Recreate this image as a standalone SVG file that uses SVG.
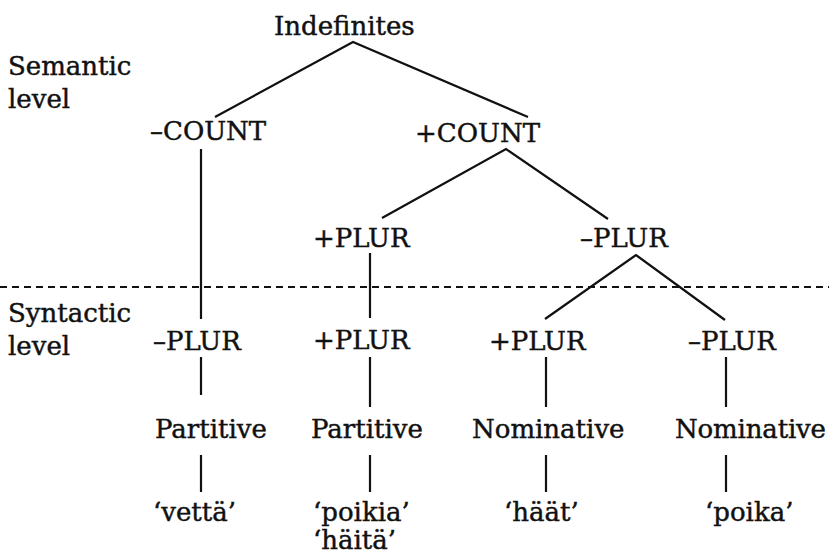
<svg xmlns="http://www.w3.org/2000/svg" width="829" height="556" viewBox="0 0 829 556">
  <style>
    text { font-family: "DejaVu Serif", "Liberation Serif", serif; font-size: 26px; fill: #111; stroke: #111; stroke-width: 0.45; }
    .edge { stroke: #111; stroke-width: 2.2; fill: none; stroke-linecap: butt; }
    .divider { stroke: #111; stroke-width: 2; stroke-dasharray: 7 5; }
  </style>
  <rect width="829" height="556" fill="#ffffff"/>

  <!-- level labels -->
  <g id="label-semantic">
    <text x="8" y="75">Semantic</text>
    <text x="8" y="108">level</text>
  </g>
  <g id="label-syntactic">
    <text x="8" y="322">Syntactic</text>
    <text x="8" y="355">level</text>
  </g>

  <!-- boundary between semantic and syntactic levels -->
  <line class="divider" x1="0" y1="287" x2="829" y2="287"/>

  <!-- tree edges -->
  <g id="connectors">
    <polyline class="edge" points="215,117 353,42 528,117"/>
    <line class="edge" x1="201" y1="149" x2="201" y2="319"/>
    <polyline class="edge" points="382,218 506,149 608,219"/>
    <line class="edge" x1="370" y1="253" x2="370" y2="318"/>
    <polyline class="edge" points="545,319 636,255 725,320"/>
    <line class="edge" x1="201" y1="357" x2="201" y2="395"/>
    <line class="edge" x1="370" y1="357" x2="370" y2="407"/>
    <line class="edge" x1="546" y1="357" x2="546" y2="407"/>
    <line class="edge" x1="726" y1="357" x2="726" y2="407"/>
    <line class="edge" x1="201" y1="455" x2="201" y2="492"/>
    <line class="edge" x1="370" y1="455" x2="370" y2="492"/>
    <line class="edge" x1="546" y1="455" x2="546" y2="492"/>
    <line class="edge" x1="726" y1="455" x2="726" y2="492"/>
  </g>

  <!-- semantic nodes -->
  <g id="n-indefinites"><text x="274" y="35">Indefinites</text></g>
  <g id="n-count-minus"><text x="150" y="140">–COUNT</text></g>
  <g id="n-count-plus"><text x="415" y="142">+COUNT</text></g>
  <g id="n-plur-plus-sem"><text x="313" y="247">+PLUR</text></g>
  <g id="n-plur-minus-sem"><text x="580" y="247">–PLUR</text></g>

  <!-- syntactic nodes -->
  <g id="n-plur-minus-1"><text x="153" y="350">–PLUR</text></g>
  <g id="n-plur-plus-1"><text x="313" y="349">+PLUR</text></g>
  <g id="n-plur-plus-2"><text x="489" y="350">+PLUR</text></g>
  <g id="n-plur-minus-2"><text x="688" y="350">–PLUR</text></g>

  <!-- case nodes -->
  <g id="n-partitive-1"><text x="155" y="438">Partitive</text></g>
  <g id="n-partitive-2"><text x="311" y="438">Partitive</text></g>
  <g id="n-nominative-1"><text x="472" y="438">Nominative</text></g>
  <g id="n-nominative-2"><text x="675" y="438" textLength="151">Nominative</text></g>

  <!-- example words -->
  <g id="w-vetta"><text x="153" y="521">‘vettä’</text></g>
  <g id="w-poikia"><text x="313" y="521">‘poikia’</text><text x="313" y="549">‘häitä’</text></g>
  <g id="w-haat"><text x="504" y="521">‘häät’</text></g>
  <g id="w-poika"><text x="705" y="521">‘poika’</text></g>
</svg>
